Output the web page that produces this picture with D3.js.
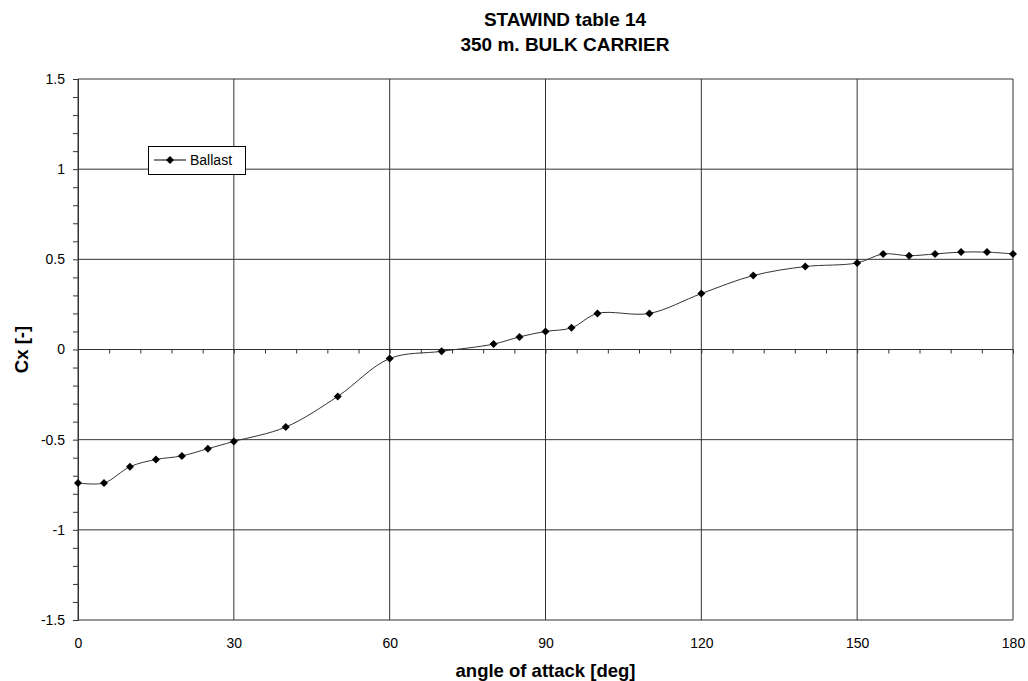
<!DOCTYPE html>
<meta charset="utf-8">
<html>
<head>
  <title>STAWIND table 14</title>
  <script src="https://d3js.org/d3.v7.min.js"></script>
  <style>
    body { margin: 0; background: #fff; }
    svg, svg text { font-family: "Liberation Sans", Arial, sans-serif; }
  </style>
</head>
<body>
<div id="my_dataviz"></div>

<script>
// data
var angles = [0, 5, 10, 15, 20, 25, 30, 40, 50, 60, 70, 80, 85, 90, 95, 100, 110, 120, 130, 140, 150, 155, 160, 165, 170, 175, 180];
var cxBallast = [-0.74, -0.74, -0.65, -0.61, -0.59, -0.55, -0.51, -0.43, -0.26, -0.05, -0.01, 0.03, 0.07, 0.10, 0.12, 0.20, 0.20, 0.31, 0.41, 0.46, 0.48, 0.53, 0.52, 0.53, 0.54, 0.54, 0.53];
var xTicks = [0, 30, 60, 90, 120, 150, 180];
var yTicks = [-1.5, -1, -0.5, 0, 0.5, 1, 1.5];
var titleLines = ["STAWIND table 14", "350 m. BULK CARRIER"];
var seriesName = "Ballast";

var data = angles.map(function(a, i) { return {angle: a, cx: cxBallast[i]}; });

// dimensions
var W = 1028, H = 681;
var margin = {top: 79, right: 15, bottom: 61, left: 78},
    width = W - margin.left - margin.right,
    height = H - margin.top - margin.bottom;

var root = d3.select("#my_dataviz")
  .append("svg")
    .attr("width", W)
    .attr("height", H);

var svg = root.append("g")
    .attr("transform", "translate(" + margin.left + "," + margin.top + ")");

var x = d3.scaleLinear().domain([0, 180]).range([0, width]);
var y = d3.scaleLinear().domain([-1.5, 1.5]).range([height, 0]);

var gridColor = "#333";

// gridlines
svg.append("g").selectAll("line")
  .data(xTicks).enter().append("line")
    .attr("x1", function(d) { return x(d); })
    .attr("x2", function(d) { return x(d); })
    .attr("y1", 0).attr("y2", height)
    .style("stroke", gridColor).style("stroke-width", 1);

svg.append("g").selectAll("line")
  .data(yTicks).enter().append("line")
    .attr("x1", 0).attr("x2", width)
    .attr("y1", function(d) { return y(d); })
    .attr("y2", function(d) { return y(d); })
    .style("stroke", gridColor).style("stroke-width", 1);

// y axis with minor ticks every 0.1
var yMinor = d3.range(-15, 16).map(function(i) { return i / 10; });
var isMajor = function(d) { return Math.abs(d * 2 - Math.round(d * 2)) < 1e-6; };
var yAxis = svg.append("g")
  .call(d3.axisLeft(y).tickValues(yMinor).tickSize(5).tickPadding(8)
    .tickFormat(function(d) { return isMajor(d) ? String(+d.toFixed(1)) : ""; }))
  .attr("font-size", 14)
  .attr("font-family", "Liberation Sans, Arial, sans-serif");
yAxis.selectAll("line").style("stroke", gridColor);
yAxis.select(".domain").style("stroke", gridColor);
yAxis.selectAll("text").style("fill", "#000");

// x axis crosses at 0: minor ticks every 6 deg
var xMinor = d3.range(0, 181, 6);
var xAxisZero = svg.append("g")
  .attr("transform", "translate(0," + y(0) + ")")
  .call(d3.axisBottom(x).tickValues(xMinor).tickSize(4).tickFormat(""));
xAxisZero.select(".domain").remove();
xAxisZero.selectAll("line").style("stroke", gridColor);

// x tick labels at the bottom
var xAxisLow = svg.append("g")
  .attr("transform", "translate(0," + height + ")")
  .call(d3.axisBottom(x).tickValues(xTicks).tickSize(0).tickPadding(18))
  .attr("font-size", 14)
  .attr("font-family", "Liberation Sans, Arial, sans-serif");
xAxisLow.select(".domain").remove();
xAxisLow.selectAll("text").style("fill", "#000");

// series line
var line = d3.line()
  .x(function(d) { return x(d.angle); })
  .y(function(d) { return y(d.cx); })
  .curve(d3.curveCatmullRom.alpha(0.5));

svg.append("path")
  .datum(data)
  .attr("d", line)
  .style("fill", "none")
  .style("stroke", "#333")
  .style("stroke-width", 1);

// square diamond marker
var diamond = {
  draw: function(ctx, size) {
    var r = Math.sqrt(size / 2);
    ctx.moveTo(0, -r); ctx.lineTo(r, 0); ctx.lineTo(0, r); ctx.lineTo(-r, 0); ctx.closePath();
  }
};
var marker = d3.symbol().type(diamond).size(32);

svg.selectAll(".pt")
  .data(data).enter().append("path")
    .attr("class", "pt")
    .attr("transform", function(d) { return "translate(" + x(d.angle) + "," + y(d.cx) + ")"; })
    .attr("d", marker)
    .style("fill", "#000");

// legend
var legend = root.append("g").attr("transform", "translate(148,146)");
legend.append("rect")
  .attr("x", 0.5).attr("y", 0.5)
  .attr("width", 97).attr("height", 28)
  .style("fill", "#fff").style("stroke", "#000").style("stroke-width", 1);
legend.append("line")
  .attr("x1", 6).attr("x2", 38).attr("y1", 14).attr("y2", 14)
  .style("stroke", "#000").style("stroke-width", 1);
legend.append("path")
  .attr("transform", "translate(22,14)")
  .attr("d", marker)
  .style("fill", "#000");
legend.append("text")
  .attr("x", 42).attr("y", 19)
  .style("font-size", "14px")
  .text(seriesName);

// title
root.selectAll(".title")
  .data(titleLines).enter().append("text")
    .attr("class", "title")
    .attr("x", 565)
    .attr("y", function(d, i) { return 26 + i * 24.5; })
    .attr("text-anchor", "middle")
    .style("font-size", "19px")
    .style("font-weight", "bold")
    .text(function(d) { return d; });

// axis titles
root.append("text")
  .attr("x", margin.left + width / 2)
  .attr("y", 677)
  .attr("text-anchor", "middle")
  .style("font-size", "18.5px")
  .style("font-weight", "bold")
  .text("angle of attack [deg]");

root.append("text")
  .attr("transform", "translate(28," + (margin.top + height / 2) + ")rotate(-90)")
  .attr("text-anchor", "middle")
  .style("font-size", "18.5px")
  .style("font-weight", "bold")
  .text("Cx [-]");
</script>
</body>
</html>
